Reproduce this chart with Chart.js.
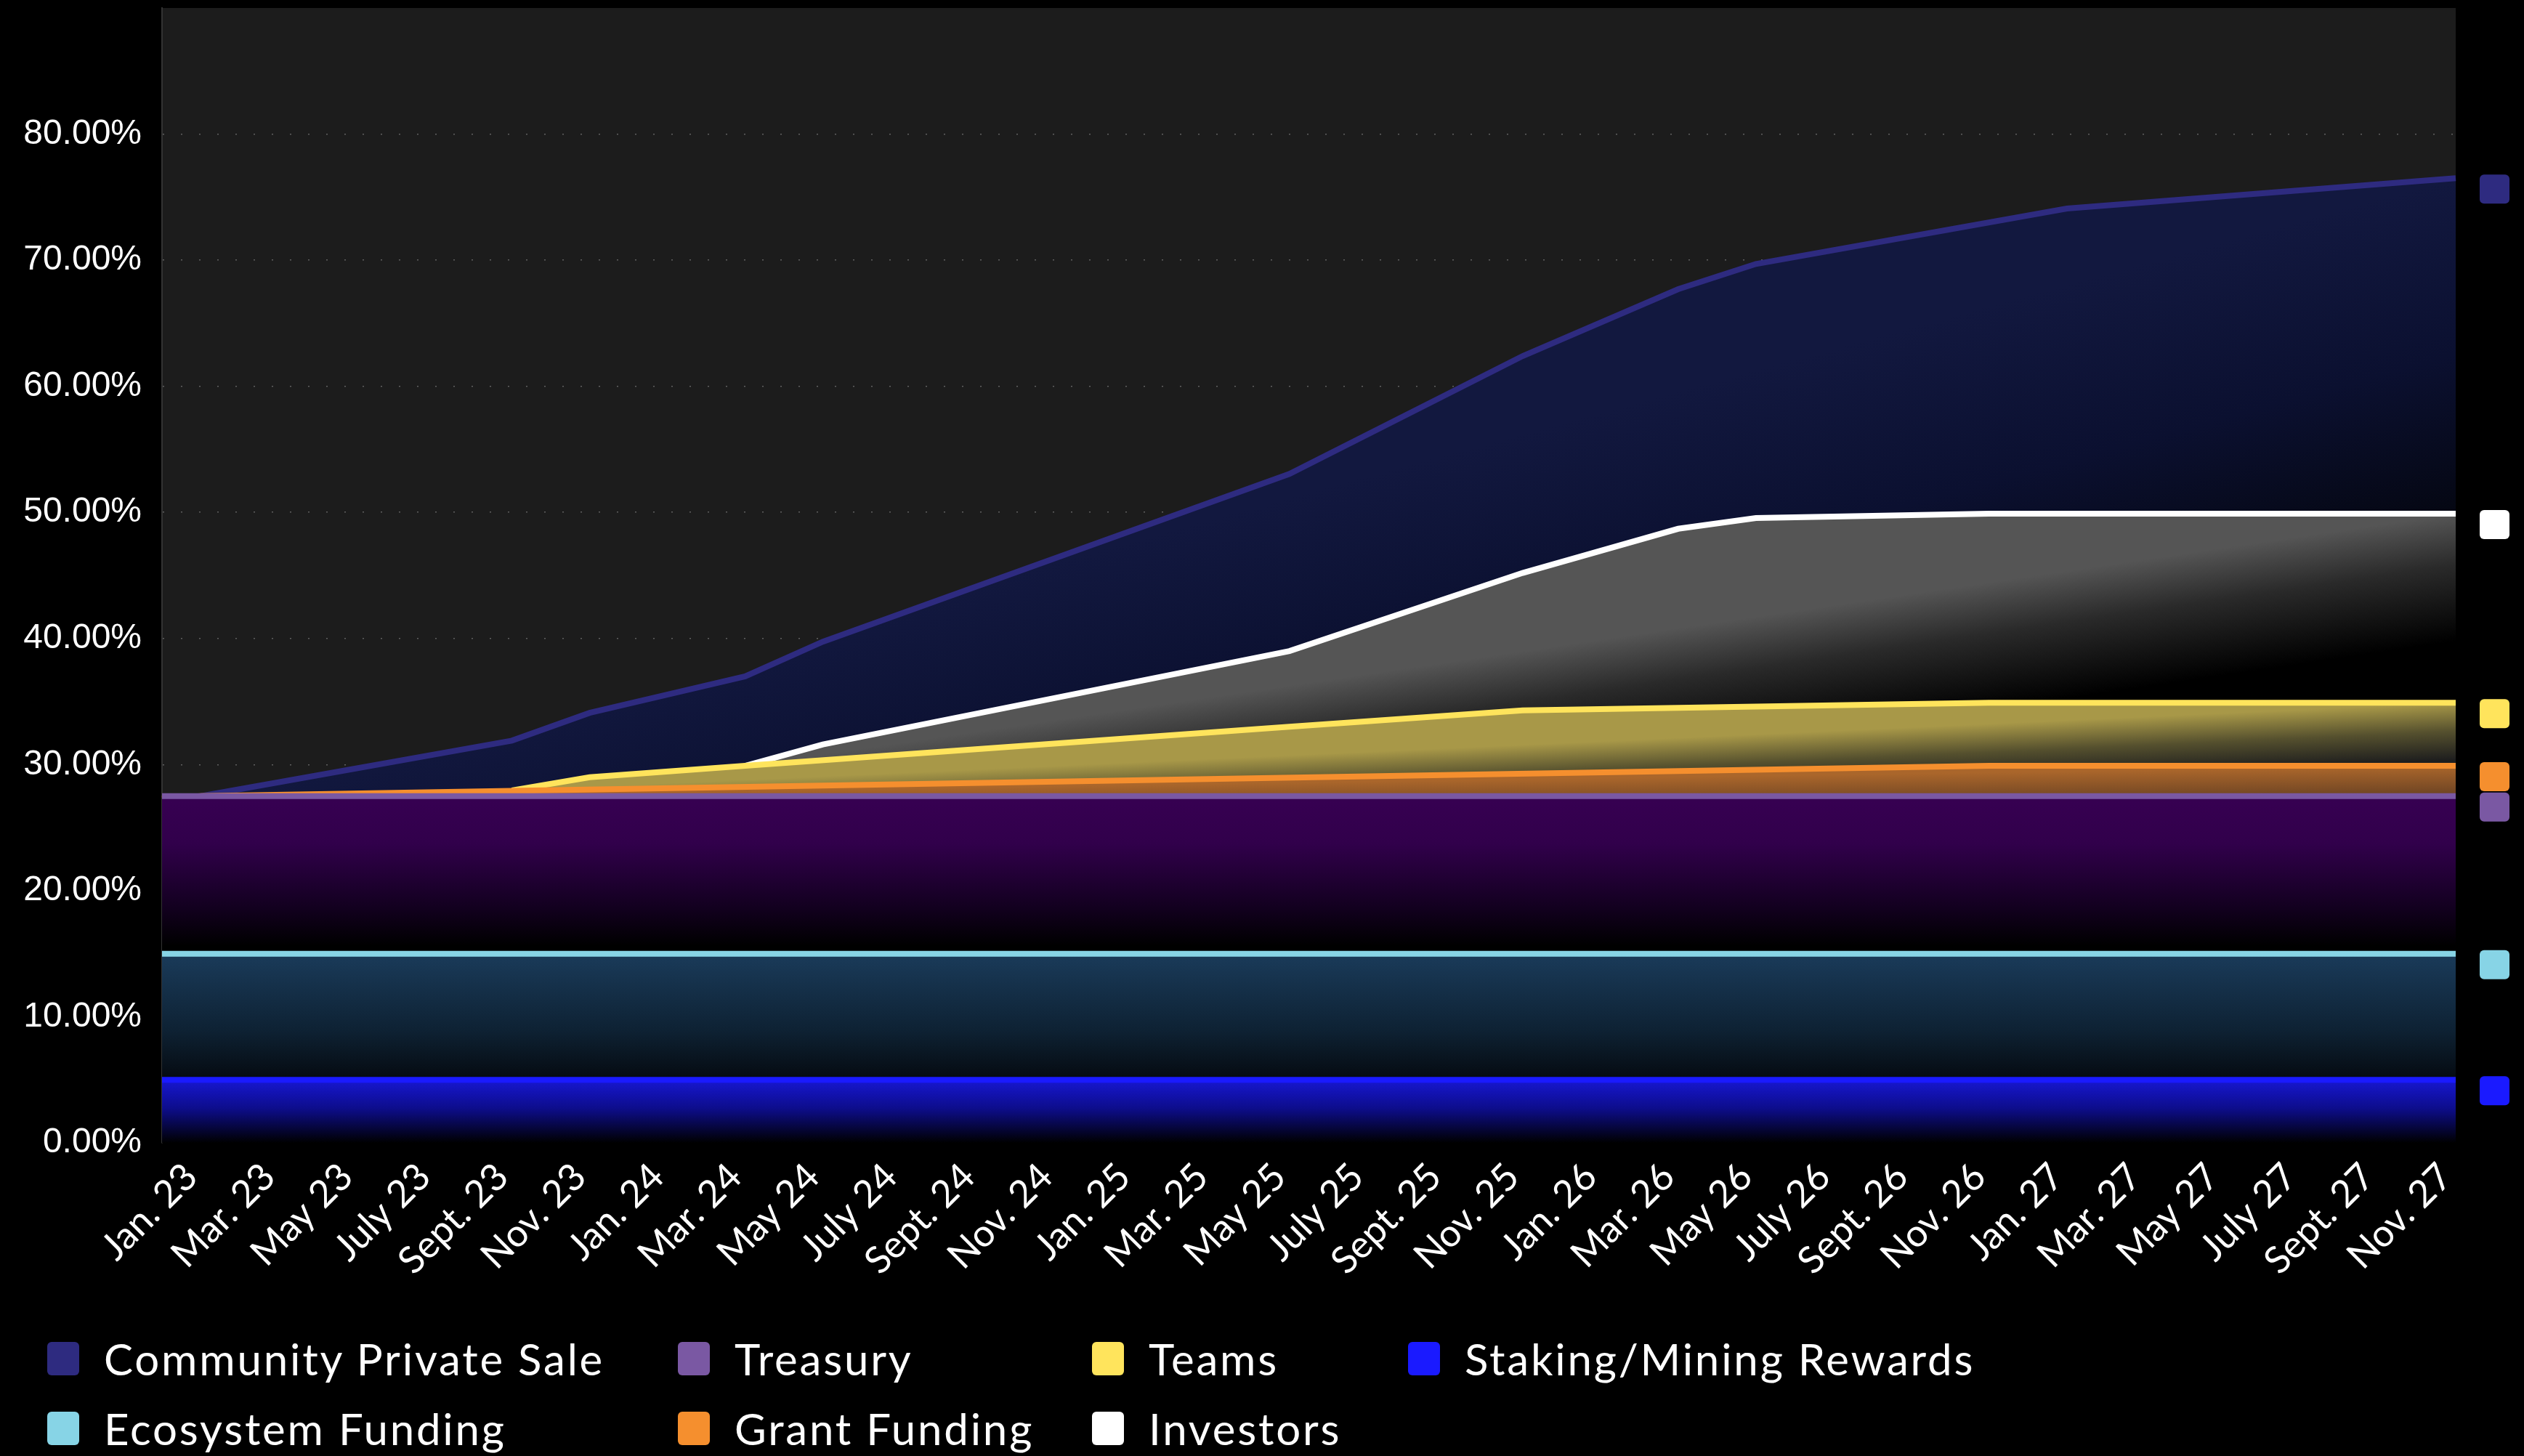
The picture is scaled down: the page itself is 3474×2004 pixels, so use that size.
<!DOCTYPE html>
<html>
<head>
<meta charset="utf-8">
<script src="https://cdn.jsdelivr.net/npm/chart.js@4.4.0/dist/chart.umd.min.js"></script>
<style>
  html, body { margin: 0; padding: 0; background: #000; }
  #wrap { position: relative; width: 3474px; height: 2004px; overflow: hidden; }
  #legend {
    position: absolute; left: 65px; top: 1847px;
    display: grid; grid-template-columns: 868px 570px 435px auto; row-gap: 50px;
  }
  .item { display: flex; align-items: center; height: 46px; }
  .box { width: 44px; height: 46px; border-radius: 6px; margin-right: 34px; flex: none; }
  .label { font: 60px Lato; color: #fff; line-height: 46px; letter-spacing: 2.8px; white-space: nowrap; }
</style>
</head>
<body>
<div id="wrap">
  <canvas id="chart" width="3474" height="2004"></canvas>
  <div id="legend"></div>
</div>
<script>
// x axis: one category per month, Jan. 23 .. Dec. 27 (every other one is labelled)
const monthNames = ['Jan.', 'Feb.', 'Mar.', 'Apr.', 'May', 'June', 'July', 'Aug.', 'Sept.', 'Oct.', 'Nov.', 'Dec.'];
const years = ['23', '24', '25', '26', '27'];
const months = [];
years.forEach(y => monthNames.forEach(m => months.push(m + ' ' + y)));

// y axis ticks (% of supply)
const yMax = 90;
const yStep = 10;

// each series: the months where the line bends, and its value there
const stakingMonths = ['Jan. 23', 'Dec. 27'];
const stakingValues = [5, 5];

const ecosystemMonths = ['Jan. 23', 'Dec. 27'];
const ecosystemValues = [15, 15];

const treasuryMonths = ['Jan. 23', 'Dec. 27'];
const treasuryValues = [27.5, 27.5];

const grantMonths = ['Jan. 23', 'Feb. 23', 'Dec. 26', 'Dec. 27'];
const grantValues = [27.3, 27.5, 29.9, 29.9];

const teamsMonths = ['Oct. 23', 'Dec. 23', 'Apr. 24', 'June 25', 'Dec. 25', 'Dec. 26', 'Dec. 27'];
const teamsValues = [27.95, 29.0, 29.9, 33.0, 34.3, 34.9, 34.9];

const investorsMonths = ['Apr. 24', 'June 24', 'June 25', 'Dec. 25', 'Apr. 26', 'June 26', 'Dec. 26', 'Dec. 27'];
const investorsValues = [29.9, 31.6, 39.0, 45.2, 48.7, 49.55, 49.9, 49.9];

const communityMonths = ['Feb. 23', 'Oct. 23', 'Dec. 23', 'Apr. 24', 'June 24', 'June 25', 'Dec. 25', 'Apr. 26', 'June 26', 'Feb. 27', 'Dec. 27'];
const communityValues = [27.5, 31.9, 34.1, 37.0, 39.75, 53.05, 62.4, 67.7, 69.7, 74.1, 76.5];

const legendOrder = ['Community Private Sale', 'Treasury', 'Teams', 'Staking/Mining Rewards',
                     'Ecosystem Funding', 'Grant Funding', 'Investors'];

const toPoints = (ms, vs) => ms.map((m, i) => ({ x: m, y: vs[i] }));

// gradient that runs perpendicular to the line's overall direction, so the
// colour fades with distance below the line (depth is in % units)
function areaFill(stops, depth) {
  return (ctx) => {
    const chart = ctx.chart;
    if (!chart.chartArea) return stops[0][1];
    const ds = chart.data.datasets[ctx.datasetIndex];
    const xs = chart.scales.x, ys = chart.scales.y;
    const a = ds.data[0], b = ds.data[ds.data.length - 1];
    const x0 = xs.getPixelForValue(months.indexOf(a.x)), y0 = ys.getPixelForValue(a.y);
    const x1 = xs.getPixelForValue(months.indexOf(b.x)), y1 = ys.getPixelForValue(b.y);
    const dx = x1 - x0, dy = y1 - y0, len = Math.hypot(dx, dy);
    const px = depth * (ys.getPixelForValue(0) - ys.getPixelForValue(1));
    const g = chart.ctx.createLinearGradient(x0, y0, x0 + (-dy / len) * px, y0 + (dx / len) * px);
    stops.forEach(s => g.addColorStop(s[0], s[1]));
    return g;
  };
}

function series(label, ms, vs, color, stops, depth) {
  return {
    label: label,
    data: toPoints(ms, vs),
    borderColor: color,
    backgroundColor: areaFill(stops, depth),
    borderWidth: 8,
    fill: 'origin',
    pointRadius: 0,
    tension: 0
  };
}

// first dataset is drawn last (on top)
const datasets = [
  series('Staking/Mining Rewards', stakingMonths, stakingValues, '#1a1aff',
    [[0, '#1717d2'], [0.45, '#0d0d8c'], [1, '#000000']], 5),
  series('Ecosystem Funding', ecosystemMonths, ecosystemValues, '#87d4e6',
    [[0, '#1a3b5a'], [0.6, '#0e2234'], [1, '#050a10']], 10),
  series('Treasury', treasuryMonths, treasuryValues, '#7a58a3',
    [[0, '#370052'], [0.3, '#31004b'], [0.7, '#130020'], [0.95, '#000000']], 12.5),
  series('Grant Funding', grantMonths, grantValues, '#f58f2e',
    [[0, '#aa662b'], [1, '#6a4223']], 2.4),
  series('Teams', teamsMonths, teamsValues, '#ffe45c',
    [[0, '#a89848'], [0.5, '#55502e'], [1, '#1e1e1e']], 4.5),
  series('Investors', investorsMonths, investorsValues, '#ffffff',
    [[0, '#555555'], [0.4, '#2a2a2a'], [1, '#000000']], 10),
  series('Community Private Sale', communityMonths, communityValues, '#2e2b80',
    [[0, '#12183f'], [0.5, '#0b1030'], [1, '#04060f']], 27)
];

const plotBackground = {
  id: 'plotBackground',
  beforeDraw(chart) {
    const { ctx, chartArea: a } = chart;
    ctx.save();
    ctx.fillStyle = '#1c1c1c';
    ctx.fillRect(a.left, a.top, a.right - a.left, a.bottom - a.top);
    ctx.restore();
  }
};

// coloured square right of the plot at each series' final value
const endMarkers = {
  id: 'endMarkers',
  afterDatasetsDraw(chart) {
    const { ctx, chartArea, scales: { y } } = chart;
    chart.data.datasets.forEach(ds => {
      const v = ds.data[ds.data.length - 1].y;
      const py = y.getPixelForValue(v);
      ctx.save();
      ctx.fillStyle = ds.borderColor;
      ctx.beginPath();
      ctx.roundRect(chartArea.right + 33, py - 5, 41, 40, 6);
      ctx.fill();
      ctx.restore();
    });
  }
};

Chart.defaults.font.family = 'Lato';
Chart.defaults.color = '#ffffff';

const chart = new Chart(document.getElementById('chart'), {
  type: 'line',
  data: { labels: months, datasets: datasets },
  options: {
    responsive: false,
    animation: false,
    devicePixelRatio: 1,
    layout: { padding: { top: 11, right: 94, left: 0, bottom: 0 } },
    plugins: { legend: { display: false }, tooltip: { enabled: false } },
    scales: {
      x: {
        grid: { display: false, drawTicks: false },
        border: { display: false },
        afterFit: (scale) => {
          scale.height = 431;
          scale.paddingLeft = 0;
          scale.paddingRight = 0;
        },
        ticks: {
          autoSkip: false,
          minRotation: 45,
          maxRotation: 45,
          padding: 16,
          labelOffset: 40,
          color: '#ffffff',
          font: { size: 52 },
          callback: (v, i) => (i % 2 === 0 ? months[i] : '')
        }
      },
      y: {
        min: 0,
        max: yMax,
        afterFit: (scale) => {
          scale.width = 223;
          scale.paddingTop = 0;
          scale.paddingBottom = 0;
        },
        grid: {
          drawTicks: false,
          lineWidth: 1.5,
          color: (c) => (c.tick && (c.tick.value === 0 || c.tick.value === yMax)) ? 'rgba(0,0,0,0)' : 'rgba(255,255,255,0.3)'
        },
        border: { color: '#333333', width: 2, dash: [2, 23] },
        ticks: {
          stepSize: yStep,
          padding: 28,
          color: '#ffffff',
          font: { family: 'Liberation Sans', size: 48 },
          callback: (v) => (v === yMax ? '' : v.toFixed(2) + '%')
        }
      }
    }
  },
  plugins: [plotBackground, endMarkers]
});

// html legend laid out in columns like the original
const legendEl = document.getElementById('legend');
legendOrder.forEach(name => {
  const ds = chart.data.datasets.find(d => d.label === name);
  const item = document.createElement('div');
  item.className = 'item';
  const box = document.createElement('span');
  box.className = 'box';
  box.style.background = ds.borderColor;
  const text = document.createElement('span');
  text.className = 'label';
  text.textContent = name;
  item.appendChild(box);
  item.appendChild(text);
  legendEl.appendChild(item);
});
</script>
</body>
</html>
